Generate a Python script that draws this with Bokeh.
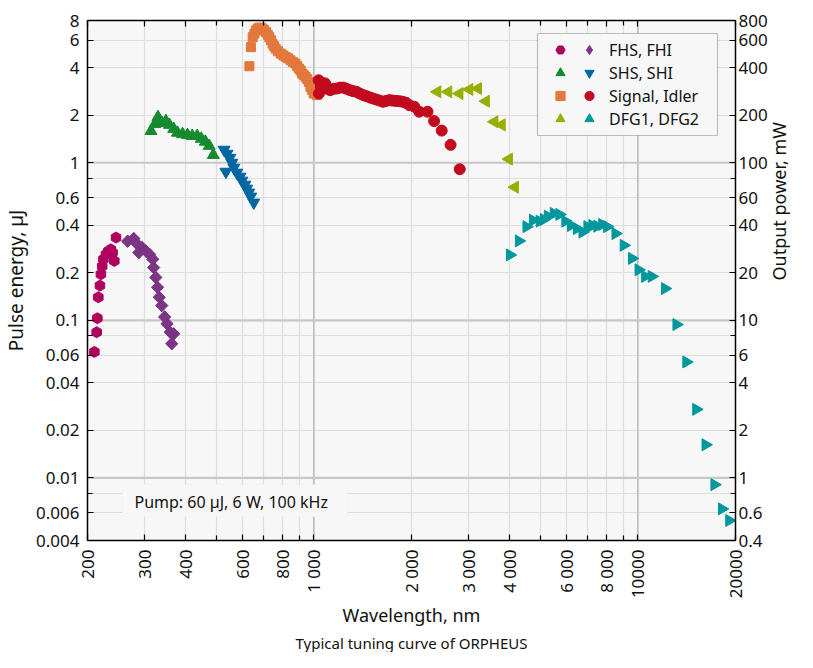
import math
from bokeh.plotting import figure
from bokeh.models import (Range1d, LogScale, LogAxis, FixedTicker, Span, Label,
                          Legend, LegendItem, BoxAnnotation, Title)
from bokeh.core.properties import value
from bokeh.embed import file_html
from bokeh.resources import INLINE

# ---------------- data (wavelength nm, pulse energy uJ) ----------------
fhs_wl = [210, 213.5, 214.5, 216, 218.5, 220, 222, 224, 228, 232, 236, 239, 242, 245]
fhs_e = [0.063, 0.084, 0.103, 0.140, 0.166, 0.196, 0.22, 0.244, 0.262, 0.275, 0.282, 0.269, 0.238, 0.335]

fhi_wl = [266, 278, 285, 288, 295, 303, 311, 318, 320, 325, 329, 333, 339, 346, 352, 360, 364, 369]
fhi_e = [0.318, 0.33, 0.304, 0.269, 0.289, 0.275, 0.262, 0.244, 0.216, 0.187, 0.162, 0.140, 0.124, 0.105, 0.095, 0.084, 0.071, 0.082]

shs_wl = [314, 323, 330, 339, 349, 358, 369, 379, 393, 407, 421, 436, 449, 462, 475, 489]
shs_e = [1.59, 1.76, 1.95, 1.79, 1.84, 1.74, 1.64, 1.55, 1.52, 1.50, 1.48, 1.48, 1.42, 1.36, 1.28, 1.12]

shi_wl = [528, 535, 539, 550, 558, 566, 578, 591, 599, 612, 620, 629, 638, 652]
shi_e = [1.21, 0.877, 1.14, 1.075, 1.0, 0.93, 0.865, 0.816, 0.77, 0.726, 0.685, 0.647, 0.61, 0.559]

sig_wl = [632, 639, 647, 655, 662, 670, 678, 686, 694, 702, 711, 720, 728, 737, 745, 753, 762,
          775, 790, 805, 818, 832, 847, 862, 877, 888, 899, 910, 920, 930, 942, 953, 964, 975, 987, 998, 1010, 1022]
sig_e = [4.10, 5.42, 6.27, 6.6, 6.91, 7.1, 7.19, 7.2, 7.09, 6.95, 6.74, 6.5, 6.27, 6.0, 5.70, 5.5, 5.30,
         5.1, 4.93, 4.8, 4.69, 4.6, 4.47, 4.35, 4.26, 4.1, 3.96, 3.85, 3.68, 3.6, 3.51, 3.4, 3.26, 3.03, 2.9, 2.75, 2.8, 2.69]

idl_wl = [1034, 1036, 1050, 1065, 1083, 1100, 1122, 1150, 1177, 1205, 1233, 1260, 1292, 1320, 1354,
          1385, 1419, 1450, 1487, 1520, 1558, 1595, 1634, 1670, 1711, 1750, 1793, 1835, 1880, 1925,
          1970, 2040, 2113, 2241, 2348, 2479, 2640, 2818]
idl_e = [3.34, 2.75, 3.05, 3.2, 3.19, 2.95, 2.89, 2.95, 2.96, 3.0, 3.0, 2.95, 2.89, 2.85, 2.82,
         2.75, 2.69, 2.65, 2.60, 2.56, 2.52, 2.48, 2.44, 2.47, 2.50, 2.48, 2.47, 2.46, 2.44, 2.40,
         2.32, 2.27, 2.11, 2.11, 1.84, 1.60, 1.30, 0.91]

dfg1_wl = [2404, 2598, 2812, 3017, 3208, 3393, 3605, 3797, 3997, 4170]
dfg1_e = [2.82, 2.82, 2.75, 2.92, 2.96, 2.46, 1.82, 1.74, 1.055, 0.70]

dfg2_wl = [4025, 4289, 4527, 4742, 4971, 5123, 5269, 5496, 5720, 5968, 6213, 6481, 6741, 6982, 7231,
           7490, 7757, 8035, 8522, 9034, 9579, 10041, 10525, 11025, 12113, 13145, 14101, 15127,
           16162, 17218, 18161, 19130]
dfg2_e = [0.26, 0.319, 0.393, 0.432, 0.426, 0.437, 0.458, 0.477, 0.470, 0.426, 0.400, 0.382, 0.363,
          0.393, 0.400, 0.396, 0.406, 0.393, 0.355, 0.299, 0.247, 0.209, 0.190, 0.190, 0.159, 0.094,
          0.0544, 0.0272, 0.0162, 0.00905, 0.00635, 0.00536]

legend_labels = ["FHS, FHI", "SHS, SHI", "Signal, Idler", "DFG1, DFG2"]

x_ticks = [200, 300, 400, 600, 800, 1000, 2000, 3000, 4000, 6000, 8000, 10000, 20000]
x_tick_labels = ["200", "300", "400", "600", "800", "1 000", "2 000", "3 000", "4 000",
                 "6 000", "8 000", "10000", "20000"]
x_minor = [500, 700, 900, 5000, 7000, 9000]

y_ticks = [0.004, 0.006, 0.01, 0.02, 0.04, 0.06, 0.1, 0.2, 0.4, 0.6, 1, 2, 4, 6, 8]
y_tick_labels = ["0.004", "0.006", "0.01", "0.02", "0.04", "0.06", "0.1", "0.2", "0.4", "0.6",
                 "1", "2", "4", "6", "8"]
y_minor = [0.008, 0.08, 0.8]

p_ticks = [0.4, 0.6, 1, 2, 4, 6, 10, 20, 40, 60, 100, 200, 400, 600, 800]
p_tick_labels = ["0.4", "0.6", "1", "2", "4", "6", "10", "20", "40", "60", "100", "200", "400", "600", "800"]
p_minor = [0.8, 8, 80]

x_decades = [1000, 10000]
y_decades = [0.01, 0.1, 1]

FONT = "Noto Sans"
TXT = "#111111"

p = figure(width=805, height=652, x_axis_type="log", y_axis_type="log",
           x_range=Range1d(200, 20000), y_range=Range1d(0.004, 8),
           output_backend="svg", toolbar_location=None, title=None,
           min_border_left=78, min_border_right=62, min_border_top=12, min_border_bottom=110)
p.background_fill_color = "#f7f7f7"
p.border_fill_color = "white"
p.outline_line_color = None

p.extra_y_ranges = {"power": Range1d(0.4, 800)}
p.extra_y_scales = {"power": LogScale()}

x_ticker = FixedTicker(ticks=x_ticks, minor_ticks=x_minor)
y_ticker = FixedTicker(ticks=y_ticks, minor_ticks=y_minor)
p_ticker = FixedTicker(ticks=p_ticks, minor_ticks=p_minor)


def style_axis(ax, standoff):
    ax.axis_line_color = "black"
    ax.axis_line_width = 1.5
    ax.major_tick_in = 6
    ax.major_tick_out = 0
    ax.minor_tick_in = 5
    ax.minor_tick_out = 0
    ax.major_tick_line_color = "black"
    ax.minor_tick_line_color = "black"
    ax.major_tick_line_width = 1.2
    ax.minor_tick_line_width = 1.2
    ax.major_label_text_font = FONT
    ax.major_label_text_font_size = "17px"
    ax.major_label_text_color = TXT
    ax.major_label_standoff = standoff
    ax.axis_label_text_font = FONT
    ax.axis_label_text_font_size = "19px"
    ax.axis_label_text_font_style = "normal"
    ax.axis_label_text_color = TXT


xb = p.below[0]
xb.ticker = x_ticker
xb.major_label_overrides = dict(zip(x_ticks, x_tick_labels))
xb.major_label_orientation = math.pi / 2
xb.axis_label = "Wavelength, nm"
style_axis(xb, 9)
xb.axis_label_text_font_size = "18px"
xb.axis_label_standoff = 2

yl = p.left[0]
yl.ticker = y_ticker
yl.major_label_overrides = dict(zip(y_ticks, y_tick_labels))
yl.axis_label = "Pulse energy, µJ"
style_axis(yl, 8)
yl.axis_label_standoff = 4

yr = LogAxis(y_range_name="power", ticker=p_ticker, axis_label="Output power, mW",
             major_label_overrides=dict(zip(p_ticks, p_tick_labels)))
style_axis(yr, 3)
yr.axis_label_standoff = 8
yr.axis_label_text_font_size = "18px"
if "axis_label_orientation" in yr.properties():
    yr.axis_label_orientation = math.pi / 2
p.add_layout(yr, "right")

# top frame edge with inward ticks (its labels are not drawn)
xt = LogAxis(ticker=x_ticker)
style_axis(xt, 0)
xt.major_label_text_font_size = "7px"
xt.major_label_text_color = None
xt.axis_label = "Wavelength, nm"
xt.axis_label_text_font_size = "12px"
xt.axis_label_text_color = None
xt.axis_label_standoff = 0
p.add_layout(xt, "above")

for g in (p.xgrid[0], p.ygrid[0]):
    g.grid_line_color = "#dedede"
    g.grid_line_width = 1.2
    g.minor_grid_line_color = "#dedede"
    g.minor_grid_line_width = 1.2

for xd in x_decades:
    p.add_layout(Span(location=xd, dimension="height", line_color="#b0b0b0",
                      line_width=1.2, level="underlay"))
for yd in y_decades:
    p.add_layout(Span(location=yd, dimension="width", line_color="#c8c8c8",
                      line_width=2.2, level="underlay"))

# ---------------- series ----------------
C_FHS, C_FHI, C_SHS, C_SHI = "#b0005f", "#7b3584", "#158a2f", "#0067a3"
C_SIG, C_IDL, C_DFG1, C_DFG2 = "#e2783c", "#c20a1e", "#98ae00", "#00979d"

r_fhs = p.scatter(fhs_wl, fhs_e, marker="hex", size=11, angle=math.pi / 6,
                  fill_color=C_FHS, line_color=C_FHS)
# diamond glyph (used as the legend key), covered by the rotated squares
r_fhi_key = p.scatter(fhi_wl, fhi_e, marker="diamond", size=12,
                      fill_color=C_FHI, line_color=C_FHI)
r_fhi = p.scatter(fhi_wl, fhi_e, marker="square", size=8.7, angle=math.pi / 4,
                  fill_color=C_FHI, line_color=C_FHI)
r_shs = p.scatter(shs_wl, shs_e, marker="triangle", size=12,
                  fill_color=C_SHS, line_color=C_SHS)
r_shi = p.scatter(shi_wl, shi_e, marker="inverted_triangle", size=12,
                  fill_color=C_SHI, line_color=C_SHI)
r_sig = p.scatter(sig_wl, sig_e, marker="square", size=9,
                  fill_color=C_SIG, line_color=C_SIG)
r_idl = p.scatter(idl_wl, idl_e, marker="circle", size=11,
                  fill_color=C_IDL, line_color=C_IDL)
r_dfg1 = p.scatter(dfg1_wl, dfg1_e, marker="triangle", size=12, angle=math.pi / 2,
                   fill_color=C_DFG1, line_color=C_DFG1)
r_dfg2 = p.scatter(dfg2_wl, dfg2_e, marker="triangle", size=12, angle=-math.pi / 2,
                   fill_color=C_DFG2, line_color=C_DFG2)

# ---------------- legend (box + two glyph columns) ----------------
p.add_layout(BoxAnnotation(left=450, right=630, bottom=405, top=507,
                           left_units="screen", right_units="screen",
                           bottom_units="screen", top_units="screen",
                           fill_color="#f7f7f7", fill_alpha=1.0,
                           line_color="#333333", line_width=1.2))

firsts = [r_fhs, r_shs, r_sig, r_dfg1]
seconds = [r_fhi_key, r_shi, r_idl, r_dfg2]

common = dict(padding=0, margin=0, spacing=0, glyph_width=24, glyph_height=23,
              label_height=22, border_line_color=None, background_fill_alpha=0,
              label_text_font=FONT, label_text_font_size="16px", label_text_color=TXT)
legA = Legend(items=[LegendItem(label=value(" "), renderers=[r]) for r in firsts],
              location=(461, 410), label_width=0, label_standoff=0, **common)
legB = Legend(items=[LegendItem(label=value(t), renderers=[r]) for t, r in zip(legend_labels, seconds)],
              location=(490, 410), label_standoff=8, **common)
p.add_layout(legA, "center")
p.add_layout(legB, "center")

# ---------------- pump note ----------------
p.add_layout(BoxAnnotation(left=35, right=260, bottom=24, top=56,
                           left_units="screen", right_units="screen",
                           bottom_units="screen", top_units="screen",
                           fill_color="#f7f7f7", fill_alpha=1.0,
                           line_color="#ececec", line_width=1))
p.add_layout(Label(x=47, y=39, x_units="screen", y_units="screen",
                   text="Pump: 60 µJ, 6 W, 100 kHz", text_font=FONT,
                   text_font_size="16px", text_color=TXT, text_baseline="middle",
                   text_align="left"))

p.add_layout(Title(text="Typical tuning curve of ORPHEUS", align="center", standoff=0,
                   text_font=FONT, text_font_size="15px", text_font_style="normal",
                   text_color=TXT), "below")

open("out.html", "w").write(file_html(p, INLINE))
